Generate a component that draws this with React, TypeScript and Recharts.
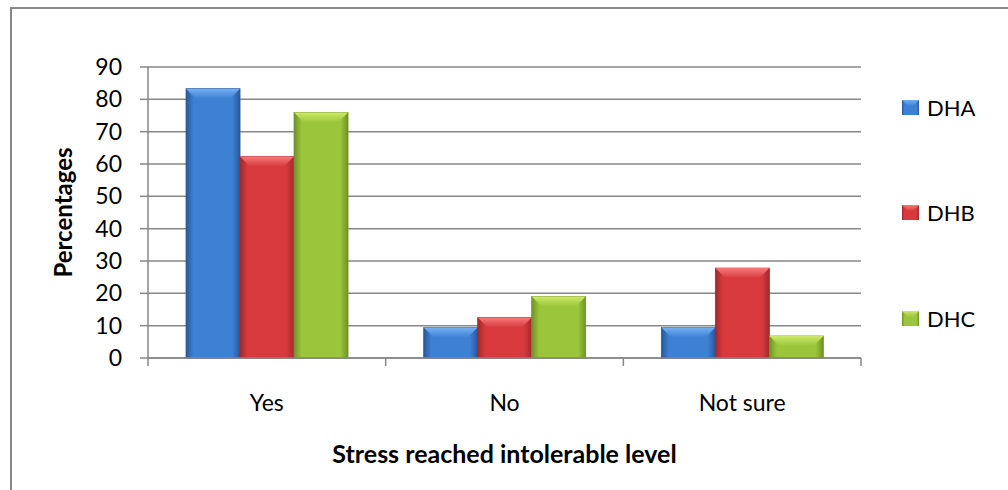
import React from 'react';
import {
  BarChart,
  Bar,
  XAxis,
  YAxis,
  CartesianGrid,
  Legend,
  Label,
} from 'recharts';

const categories = ['Yes', 'No', 'Not sure'];
const seriesNames = ['DHA', 'DHB', 'DHC'];
const dhaValues = [83.3, 9.4, 9.4];
const dhbValues = [62.3, 12.5, 27.8];
const dhcValues = [75.9, 19.0, 6.8];
const yTicks = [0, 10, 20, 30, 40, 50, 60, 70, 80, 90];

const data = categories.map((name, i) => ({
  name,
  DHA: dhaValues[i],
  DHB: dhbValues[i],
  DHC: dhcValues[i],
}));

const FONT = "Lato, 'Open Sans', sans-serif";
const GRID = '#878787';

// edge / middle / bevel shades for each series
const palette = [
  { edge: '#2a5898', mid: '#3d80d4', top: '#74b0f2' },
  { edge: '#a02a2c', mid: '#d8393d', top: '#f67a78' },
  { edge: '#6f922a', mid: '#9bc53a', top: '#cde86a' },
];

const PLOT_LEFT = 148;
const PLOT_RIGHT = 861;
const BAND = (PLOT_RIGHT - PLOT_LEFT) / categories.length;

const BevelBar = (props: any) => {
  const { x, y, width, height, series } = props;
  if (!height || height <= 0) return null;
  const b = Math.min(10, height / 2, width / 4);
  return (
    <g>
      <rect x={x} y={y} width={width} height={height} fill={`url(#body${series})`} stroke={palette[series].edge} strokeWidth={0.8} />
      <polygon
        points={`${x},${y} ${x + width},${y} ${x + width - b},${y + b} ${x + b},${y + b}`}
        fill={`url(#top${series})`}
      />
    </g>
  );
};

const CategoryTick = (props: any) => {
  const { x, y, payload, index } = props;
  const half = BAND / 2;
  return (
    <g>
      <line x1={x - half} x2={x - half} y1={y} y2={y + 8} stroke={GRID} strokeWidth={1.5} />
      {index === categories.length - 1 && (
        <line x1={x + half} x2={x + half} y1={y} y2={y + 8} stroke={GRID} strokeWidth={1.5} />
      )}
      <text x={x} y={y + 44} textAnchor="middle" dominantBaseline="central" fontSize={23} fontFamily={FONT} fill="#000">
        {payload.value}
      </text>
    </g>
  );
};

const YTitle = (props: any) => {
  const { viewBox } = props;
  const cx = viewBox.x + 14;
  const cy = viewBox.y + viewBox.height / 2;
  return (
    <text x={cx} y={cy} transform={`rotate(-90, ${cx}, ${cy})`} textAnchor="middle" dominantBaseline="central" fontSize={24} fontWeight="bold" fontFamily={FONT} fill="#000">
      Percentages
    </text>
  );
};

const XTitle = (props: any) => {
  const { viewBox } = props;
  return (
    <text x={viewBox.x + viewBox.width / 2} y={viewBox.y + 95} textAnchor="middle" dominantBaseline="central" fontSize={25} fontWeight="bold" fontFamily={FONT} fill="#000">
      Stress reached intolerable level
    </text>
  );
};

const renderLegend = (props: any) => {
  const { payload } = props;
  return (
    <div style={{ display: 'flex', flexDirection: 'column' }}>
      {(payload || []).map((entry: any, i: number) => (
        <div key={entry.value} style={{ height: 30, marginBottom: i < payload.length - 1 ? 75.5 : 0, display: 'flex', alignItems: 'center' }}>
          <svg width={17} height={15}>
            <rect x={0} y={0} width={17} height={15} fill={`url(#body${i})`} />
            <polygon points="0,0 17,0 11,6 6,6" fill={`url(#top${i})`} />
          </svg>
          <span style={{ marginLeft: 8, fontSize: 22, fontFamily: FONT, color: '#000' }}>{entry.value}</span>
        </div>
      ))}
    </div>
  );
};

export default function App() {
  return (
    <div style={{ position: 'absolute', left: 0, top: 0, width: 1008, height: 490, overflow: 'hidden', background: '#fff' }}>
      <div style={{ position: 'absolute', left: 10, top: 7, width: 1100, height: 600, border: '2px solid #888', boxSizing: 'border-box' }} />
      <svg width={0} height={0} style={{ position: 'absolute' }}>
        <defs>
          {palette.map((c, i) => (
            <linearGradient key={`b${i}`} id={`body${i}`} x1="0" y1="0" x2="1" y2="0">
              <stop offset="0%" stopColor={c.edge} />
              <stop offset="14%" stopColor={c.mid} />
              <stop offset="86%" stopColor={c.mid} />
              <stop offset="100%" stopColor={c.edge} />
            </linearGradient>
          ))}
          {palette.map((c, i) => (
            <linearGradient key={`t${i}`} id={`top${i}`} x1="0" y1="0" x2="0" y2="1">
              <stop offset="0%" stopColor={c.top} />
              <stop offset="100%" stopColor={c.mid} />
            </linearGradient>
          ))}
        </defs>
      </svg>
      <div style={{ position: 'absolute', left: 0, top: 0 }}>
        <BarChart
          width={1008}
          height={490}
          data={data}
          margin={{ top: 67, right: 1008 - PLOT_RIGHT, bottom: 22, left: 48 }}
          barCategoryGap="16%"
          barGap={0}
        >
          <CartesianGrid vertical={false} stroke={GRID} strokeWidth={1.5} />
          <XAxis
            dataKey="name"
            height={110}
            interval={0}
            tickSize={0}
            tickMargin={0}
            tickLine={false}
            axisLine={{ stroke: GRID, strokeWidth: 1.5 }}
            tick={<CategoryTick />}
          >
            <Label content={<XTitle />} />
          </XAxis>
          <YAxis
            width={100}
            domain={[0, 90]}
            ticks={yTicks}
            interval={0}
            tickSize={8}
            tickMargin={18}
            axisLine={{ stroke: GRID, strokeWidth: 1.5 }}
            tickLine={{ stroke: GRID, strokeWidth: 1.5 }}
            tick={{ fontSize: 23, fontFamily: FONT, fill: '#000' }}
          >
            <Label content={<YTitle />} />
          </YAxis>
          <Legend
            layout="vertical"
            align="center"
            verticalAlign="middle"
            wrapperStyle={{ left: 902, top: 92, width: 100 }}
            content={renderLegend}
          />
          {seriesNames.map((s, i) => (
            <Bar
              key={s}
              dataKey={s}
              name={s}
              fill={palette[i].mid}
              isAnimationActive={false}
              shape={(p: any) => <BevelBar {...p} series={i} />}
            />
          ))}
        </BarChart>
      </div>
    </div>
  );
}
